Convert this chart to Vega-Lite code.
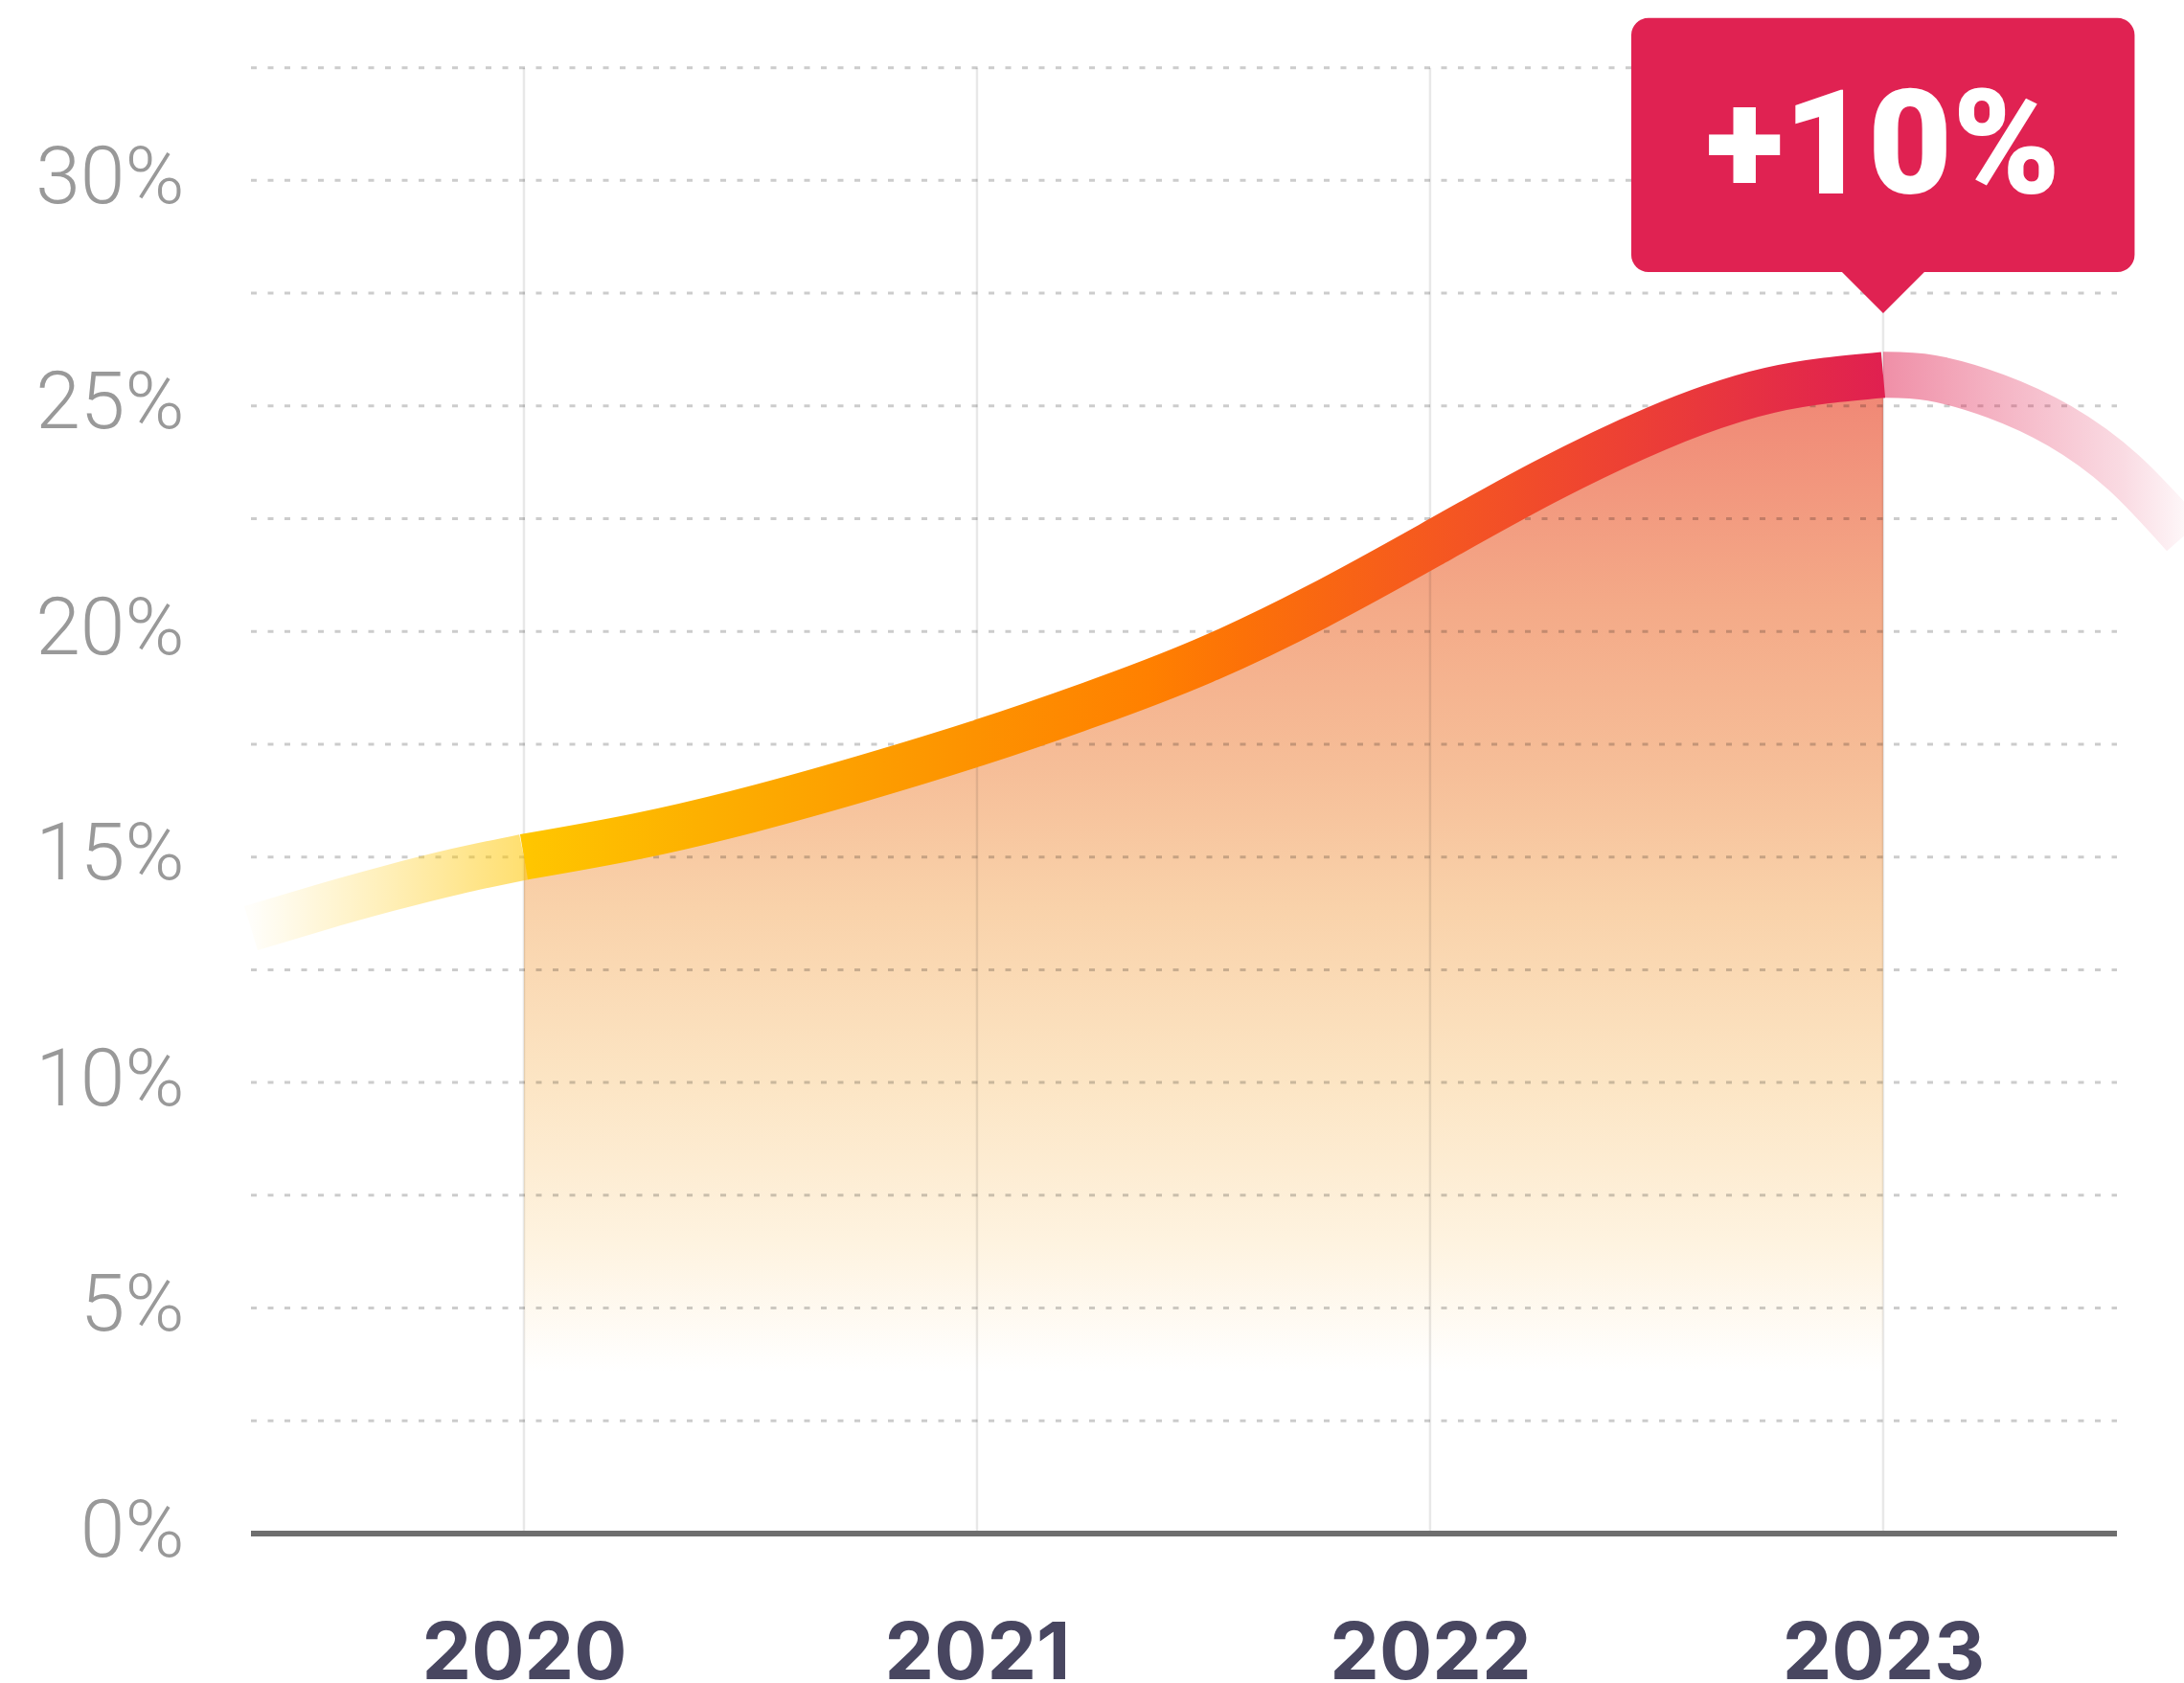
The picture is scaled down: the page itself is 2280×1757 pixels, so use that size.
{
  "$schema": "https://vega.github.io/schema/vega-lite/v6.json",
  "width": 2018,
  "height": 1601,
  "autosize": {"type": "none"},
  "padding": {"left": 262, "top": 0, "right": 0, "bottom": 156},
  "background": "#ffffff",
  "config": {"view": {"stroke": null}},
  "datasets": {
    "curve": [
      {"seg": "left", "year": 2019.3975, "value": 13.42},
      {"seg": "left", "year": 2019.55, "value": 13.88},
      {"seg": "left", "year": 2019.7, "value": 14.3},
      {"seg": "left", "year": 2019.85, "value": 14.68},
      {"seg": "left", "year": 2020, "value": 15.0},
      {"seg": "mid", "year": 2020, "value": 15.0},
      {"seg": "mid", "year": 2020.25, "value": 15.46},
      {"seg": "mid", "year": 2020.5, "value": 16.05},
      {"seg": "mid", "year": 2020.75, "value": 16.75},
      {"seg": "mid", "year": 2021, "value": 17.52},
      {"seg": "mid", "year": 2021.25, "value": 18.38},
      {"seg": "mid", "year": 2021.5, "value": 19.35},
      {"seg": "mid", "year": 2021.75, "value": 20.55},
      {"seg": "mid", "year": 2022, "value": 21.92},
      {"seg": "mid", "year": 2022.25, "value": 23.3},
      {"seg": "mid", "year": 2022.5, "value": 24.5},
      {"seg": "mid", "year": 2022.75, "value": 25.35},
      {"seg": "mid", "year": 2023, "value": 25.69},
      {"seg": "right", "year": 2023, "value": 25.69},
      {"seg": "right", "year": 2023.107, "value": 25.62},
      {"seg": "right", "year": 2023.248, "value": 25.22},
      {"seg": "right", "year": 2023.389, "value": 24.56},
      {"seg": "right", "year": 2023.53, "value": 23.53},
      {"seg": "right", "year": 2023.664, "value": 22.12}
    ],
    "years": [{"year": 2020}, {"year": 2021}, {"year": 2022}, {"year": 2023}],
    "grid": [
      {"value": 2.5}, {"value": 5}, {"value": 7.5}, {"value": 10}, {"value": 12.5},
      {"value": 15}, {"value": 17.5}, {"value": 20}, {"value": 22.5}, {"value": 25},
      {"value": 27.5}, {"value": 30}, {"value": 32.5}
    ],
    "one": [{"value": 0}],
    "callout": [{"year": 2023, "label": "+10%", "top": 33.6, "bottom": 27.97, "left": 2022.444, "right": 2023.555, "base": 29.71}]
  },
  "layer": [
    {
      "data": {"name": "curve"},
      "transform": [{"filter": "datum.seg === 'mid'"}],
      "mark": {
        "type": "area",
        "interpolate": "natural",
        "fill": {
          "gradient": "linear", "x1": 0, "y1": 0, "x2": 0, "y2": 1,
          "stops": [
            {"offset": 0, "color": "#f08574"},
            {"offset": 0.2, "color": "#f4aa88"},
            {"offset": 0.34, "color": "#f6be98"},
            {"offset": 0.46, "color": "#f9d2aa"},
            {"offset": 0.61, "color": "#fce5c4"},
            {"offset": 0.75, "color": "#fef3e0"},
            {"offset": 0.86, "color": "#ffffff"},
            {"offset": 1, "color": "#ffffff"}
          ]
        }
      },
      "encoding": {
        "x": {
          "field": "year", "type": "quantitative", "title": null,
          "scale": {"domain": [2019.3975, 2023.664], "nice": false, "zero": false},
          "axis": {
            "title": null, "values": [2020, 2021, 2022, 2023], "format": "d",
            "domain": false, "ticks": false, "tickSize": 0, "grid": false,
            "labelFont": "Inter", "labelFontSize": 82, "labelFontWeight": "bold",
            "labelColor": "#484660", "labelPadding": 151, "labelBaseline": "alphabetic",
            "labelFlush": false, "labelOverlap": false, "labelLimit": 0
          }
        },
        "y": {
          "field": "value", "type": "quantitative", "title": null,
          "scale": {"domain": [0, 34], "nice": false, "zero": false},
          "axis": {
            "title": null, "values": [0, 5, 10, 15, 20, 25, 30],
            "labelExpr": "datum.value + '%'",
            "domain": false, "ticks": false, "tickSize": 0, "grid": false,
            "labelFont": "Roboto", "labelFontSize": 84, "labelFontWeight": 300,
            "labelColor": "#999999", "labelPadding": 70, "labelBaseline": "alphabetic",
            "labelOffset": 23, "labelOverlap": false, "labelLimit": 0
          }
        }
      }
    },
    {
      "data": {"name": "years"},
      "mark": {"type": "rule", "stroke": "rgba(0,0,0,0.09)", "strokeWidth": 2.5},
      "encoding": {
        "x": {"field": "year", "type": "quantitative", "title": null},
        "y": {"datum": 0, "type": "quantitative", "title": null},
        "y2": {"datum": 32.5}
      }
    },
    {
      "data": {"name": "grid"},
      "mark": {"type": "rule", "stroke": "rgba(0,0,0,0.2)", "strokeWidth": 3, "strokeDash": [6, 11.5]},
      "encoding": {
        "y": {"field": "value", "type": "quantitative", "title": null},
        "x": {"datum": 2019.3975, "type": "quantitative", "title": null},
        "x2": {"datum": 2023.516}
      }
    },
    {
      "data": {"name": "one"},
      "mark": {"type": "rule", "stroke": "#6e6e6e", "strokeWidth": 6},
      "encoding": {
        "y": {"field": "value", "type": "quantitative", "title": null},
        "x": {"datum": 2019.3975, "type": "quantitative", "title": null},
        "x2": {"datum": 2023.516}
      }
    },
    {
      "data": {"name": "curve"},
      "transform": [{"filter": "datum.seg === 'left'"}],
      "mark": {
        "type": "line", "interpolate": "natural", "strokeWidth": 48, "strokeCap": "butt",
        "stroke": {
          "gradient": "linear", "x1": 0, "y1": 0, "x2": 1, "y2": 0,
          "stops": [
            {"offset": 0, "color": "rgba(255,198,0,0.02)"},
            {"offset": 0.5, "color": "rgba(255,198,0,0.28)"},
            {"offset": 1, "color": "rgba(255,198,0,0.56)"}
          ]
        }
      },
      "encoding": {
        "x": {"field": "year", "type": "quantitative", "title": null},
        "y": {"field": "value", "type": "quantitative", "title": null}
      }
    },
    {
      "data": {"name": "curve"},
      "transform": [{"filter": "datum.seg === 'mid'"}],
      "mark": {
        "type": "line", "interpolate": "natural", "strokeWidth": 48, "strokeCap": "butt",
        "stroke": {
          "gradient": "linear", "x1": 0, "y1": 0, "x2": 1, "y2": 0,
          "stops": [
            {"offset": 0, "color": "#ffc600"},
            {"offset": 0.13, "color": "#fdb000"},
            {"offset": 0.33, "color": "#fd9200"},
            {"offset": 0.46, "color": "#ff8000"},
            {"offset": 0.53, "color": "#fc7108"},
            {"offset": 0.67, "color": "#f55820"},
            {"offset": 0.78, "color": "#ef4530"},
            {"offset": 0.85, "color": "#ea3a3a"},
            {"offset": 0.92, "color": "#e52e45"},
            {"offset": 1, "color": "#e02050"}
          ]
        }
      },
      "encoding": {
        "x": {"field": "year", "type": "quantitative", "title": null},
        "y": {"field": "value", "type": "quantitative", "title": null}
      }
    },
    {
      "data": {"name": "curve"},
      "transform": [{"filter": "datum.seg === 'right'"}],
      "mark": {
        "type": "line", "interpolate": "natural", "strokeWidth": 48, "strokeCap": "butt",
        "stroke": {
          "gradient": "linear", "x1": 0, "y1": 0, "x2": 1, "y2": 0,
          "stops": [
            {"offset": 0, "color": "rgba(224,32,80,0.5)"},
            {"offset": 0.37, "color": "rgba(224,32,80,0.34)"},
            {"offset": 0.8, "color": "rgba(224,32,80,0.16)"},
            {"offset": 1, "color": "rgba(224,32,80,0.04)"}
          ]
        }
      },
      "encoding": {
        "x": {"field": "year", "type": "quantitative", "title": null},
        "y": {"field": "value", "type": "quantitative", "title": null}
      }
    },
    {
      "data": {"name": "callout"},
      "mark": {"type": "rect", "fill": "#e02252", "cornerRadius": 18},
      "encoding": {
        "x": {"field": "left", "type": "quantitative", "title": null},
        "x2": {"field": "right"},
        "y": {"field": "top", "type": "quantitative", "title": null},
        "y2": {"field": "bottom"}
      }
    },
    {
      "data": {"name": "callout"},
      "mark": {"type": "point", "shape": "diamond", "filled": true, "fill": "#e02252", "opacity": 1, "strokeWidth": 0, "size": 7396},
      "encoding": {
        "x": {"field": "year", "type": "quantitative", "title": null},
        "y": {"field": "bottom", "type": "quantitative", "title": null}
      }
    },
    {
      "data": {"name": "callout"},
      "mark": {"type": "text", "font": "Roboto", "fontSize": 152, "fontWeight": 900, "fill": "#ffffff", "align": "center", "baseline": "alphabetic"},
      "encoding": {
        "x": {"field": "year", "type": "quantitative", "title": null},
        "y": {"field": "base", "type": "quantitative", "title": null},
        "text": {"field": "label"}
      }
    }
  ]
}
